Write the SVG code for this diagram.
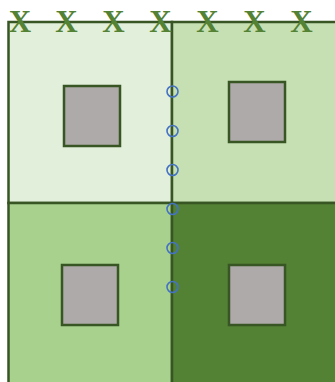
<svg xmlns="http://www.w3.org/2000/svg" width="335" height="382" viewBox="0 0 335 382">
<style>
.cell{stroke:#375623;stroke-width:2.5}
.box{fill:#aeaaaa;stroke:#375623;stroke-width:2.5}
.hole{fill:none;stroke:#4472c4;stroke-width:1.6}
.x{font-family:"Liberation Serif",serif;font-weight:bold;font-size:31px;fill:#548235;text-anchor:middle}
</style>
<rect width="335" height="382" fill="#ffffff"/>
<g id="cell-tl"><rect class="cell" x="8.5" y="22" width="163.5" height="181" fill="#e2efda"/></g>
<g id="cell-tr"><rect class="cell" x="172" y="22" width="170" height="181" fill="#c6e0b4"/></g>
<g id="cell-bl"><rect class="cell" x="8.5" y="203" width="163.5" height="190" fill="#a9d18e"/></g>
<g id="cell-br"><rect class="cell" x="172" y="203" width="170" height="190" fill="#548235"/></g>
<g id="box-tl"><rect class="box" x="64" y="86" width="56" height="60"/></g>
<g id="box-tr"><rect class="box" x="229" y="82" width="56" height="60"/></g>
<g id="box-bl"><rect class="box" x="62" y="265" width="56" height="60"/></g>
<g id="box-br"><rect class="box" x="229" y="265" width="56" height="60"/></g>
<g id="holes">
<circle class="hole" cx="172.5" cy="91.5" r="5.5"/>
<circle class="hole" cx="172.5" cy="131" r="5.5"/>
<circle class="hole" cx="172.5" cy="170" r="5.5"/>
<circle class="hole" cx="172.5" cy="209" r="5.5"/>
<circle class="hole" cx="172.5" cy="248" r="5.5"/>
<circle class="hole" cx="172.5" cy="287" r="5.5"/>
</g>
<g id="marks">
<text class="x" x="20" y="32">X</text>
<text class="x" x="66.5" y="32">X</text>
<text class="x" x="113.5" y="32">X</text>
<text class="x" x="160.5" y="32">X</text>
<text class="x" x="207.5" y="32">X</text>
<text class="x" x="254.5" y="32">X</text>
<text class="x" x="301.5" y="32">X</text>
</g>
</svg>
